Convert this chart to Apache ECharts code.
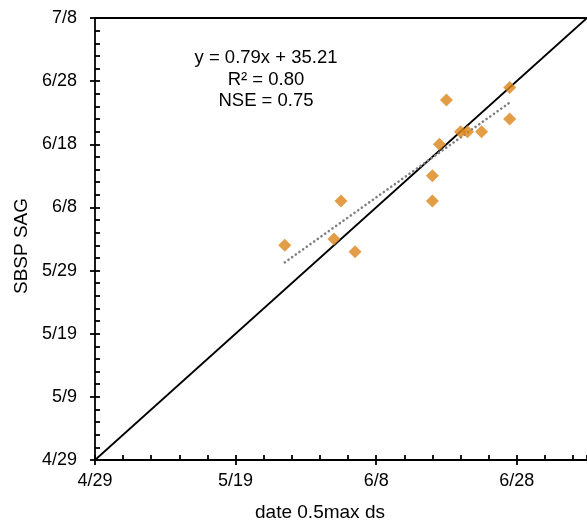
<!DOCTYPE html>
<html>
<head>
<meta charset="utf-8">
<script src="https://cdn.jsdelivr.net/npm/echarts@6/dist/echarts.min.js"></script>
<style>
html,body{margin:0;padding:0;background:#fff;}
#chart{width:587px;height:527px;}
</style>
</head>
<body>
<div id="chart"></div>
<script>
// Values are days after 4/29 (non-leap year)
var obsX = [27, 35, 34, 37, 48, 48, 49, 50, 52, 53, 55, 59, 59];
var obsY = [34, 41, 35, 33, 45, 41, 50, 57, 52, 52, 52, 59, 54];
var oneToOneX = [0, 70];
var oneToOneY = [0, 70];
var trendX = [27, 59];
var trendY = [31.3, 56.6];
var xTickValues = [0, 20, 40, 60];
var xTickLabels = ['4/29', '5/19', '6/8', '6/28'];
var yTickValues = [0, 10, 20, 30, 40, 50, 60, 70];
var yTickLabels = ['4/29', '5/9', '5/19', '5/29', '6/8', '6/18', '6/28', '7/8'];
var statsLines = ['y = 0.79x + 35.21', 'R\u00b2 = 0.80', 'NSE = 0.75'];
var xTitle = 'date 0.5max ds';
var yTitle = 'SBSP SAG';

function labelFor(values, labels) {
  return function (v) {
    for (var i = 0; i < values.length; i++) {
      if (Math.abs(values[i] - v) < 1e-6) return labels[i];
    }
    return '';
  };
}
function pairs(xs, ys) {
  return xs.map(function (x, i) { return [x, ys[i]]; });
}

var FONT = '"Liberation Sans", Arial, sans-serif';
var chart = echarts.init(document.getElementById('chart'), null, {renderer: 'canvas'});

var statsGraphics = statsLines.map(function (t, i) {
  return {
    type: 'text', x: 266, y: 58 + i * 21.7,
    style: {text: t, font: '18.5px ' + FONT, fill: '#000', align: 'center', verticalAlign: 'middle'}
  };
});

var AX = {color: '#000', width: 1.8};

chart.setOption({
  animation: false,
  backgroundColor: '#ffffff',
  grid: {left: 95, top: 18, width: 496, height: 442},
  xAxis: [
    {
      type: 'value', min: 0, max: 70, interval: 20, position: 'bottom',
      axisLine: {show: true, onZero: false, lineStyle: AX},
      axisTick: {show: true, inside: false, length: 5, lineStyle: AX},
      axisLabel: {show: true, margin: 12, fontSize: 18, fontFamily: FONT, color: '#000',
        formatter: labelFor(xTickValues, xTickLabels), showMaxLabel: false},
      splitLine: {show: false}
    },
    {
      type: 'value', min: 0, max: 70, interval: 4, position: 'bottom',
      axisLine: {show: false},
      axisTick: {show: true, inside: true, length: 5, lineStyle: AX},
      axisLabel: {show: false}, splitLine: {show: false}
    },
    {
      type: 'value', min: 0, max: 70, position: 'top',
      axisLine: {show: true, onZero: false, lineStyle: AX},
      axisTick: {show: false}, axisLabel: {show: false}, splitLine: {show: false}
    }
  ],
  yAxis: [
    {
      type: 'value', min: 0, max: 70, interval: 10, position: 'left',
      axisLine: {show: true, onZero: false, lineStyle: AX},
      axisTick: {show: true, inside: false, length: 5, lineStyle: AX},
      axisLabel: {show: true, margin: 18, fontSize: 18, fontFamily: FONT, color: '#000',
        formatter: labelFor(yTickValues, yTickLabels)},
      splitLine: {show: false}
    },
    {
      type: 'value', min: 0, max: 70, interval: 2, position: 'left',
      axisLine: {show: false},
      axisTick: {show: true, inside: true, length: 5, lineStyle: AX},
      axisLabel: {show: false}, splitLine: {show: false}
    }
  ],
  series: [
    {
      type: 'line', xAxisIndex: 0, yAxisIndex: 0, data: pairs(oneToOneX, oneToOneY),
      symbol: 'none', lineStyle: {color: '#000', width: 1.8}, z: 2, silent: true
    },
    {
      type: 'line', xAxisIndex: 0, yAxisIndex: 0, data: pairs(trendX, trendY),
      symbol: 'none', lineStyle: {color: '#808080', width: 2.6, type: [0.1, 4.4], cap: 'round'}, z: 3, silent: true
    },
    {
      type: 'scatter', xAxisIndex: 0, yAxisIndex: 0, data: pairs(obsX, obsY),
      symbol: 'diamond', symbolSize: 13,
      itemStyle: {color: '#DC8418'}, z: 4
    }
  ],
  graphic: statsGraphics.concat([
    {
      type: 'text', x: 320, y: 513,
      style: {text: xTitle, font: '19px ' + FONT, fill: '#000', align: 'center', verticalAlign: 'middle'}
    },
    {
      type: 'text', x: 21.5, y: 246, rotation: Math.PI / 2,
      style: {text: yTitle, font: '19px ' + FONT, fill: '#000', align: 'center', verticalAlign: 'middle'}
    }
  ])
});
</script>
</body>
</html>
